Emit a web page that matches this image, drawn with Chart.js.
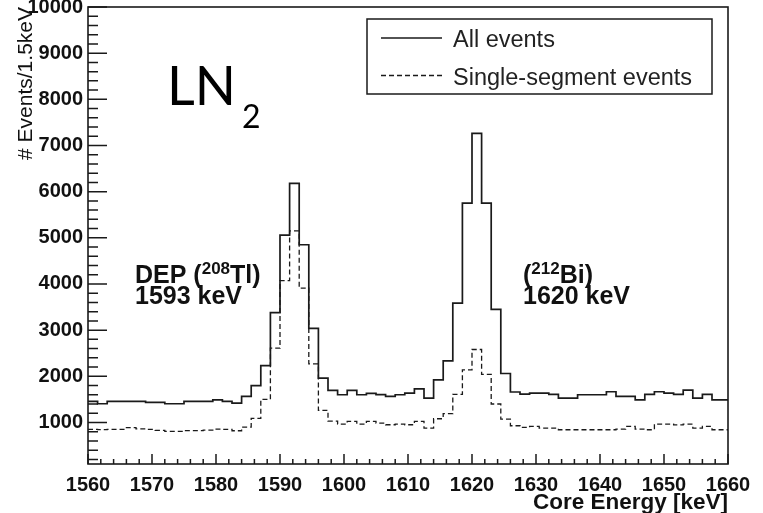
<!DOCTYPE html>
<html>
<head>
<meta charset="utf-8">
<script src="https://cdn.jsdelivr.net/npm/chart.js@4.4.0/dist/chart.umd.min.js"></script>
<style>
html, body { margin: 0; padding: 0; background: #ffffff; }
canvas { display: block; }
</style>
</head>
<body>
<canvas id="chart" width="763" height="513"></canvas>
<script>
// ---- data (1.5 keV bins, low edges in keV) ----
const binLowEdges = [1560, 1561.5, 1563, 1564.5, 1566, 1567.5, 1569, 1570.5, 1572, 1573.5,
  1575, 1576.5, 1578, 1579.5, 1581, 1582.5, 1584, 1585.5, 1587, 1588.5,
  1590, 1591.5, 1593, 1594.5, 1596, 1597.5, 1599, 1600.5, 1602, 1603.5,
  1605, 1606.5, 1608, 1609.5, 1611, 1612.5, 1614, 1615.5, 1617, 1618.5,
  1620, 1621.5, 1623, 1624.5, 1626, 1627.5, 1629, 1630.5, 1632, 1633.5,
  1635, 1636.5, 1638, 1639.5, 1641, 1642.5, 1644, 1645.5, 1647, 1648.5,
  1650, 1651.5, 1653, 1654.5, 1656, 1657.5, 1659];
const binWidth = 1.5;

const allEvents = [1455, 1405, 1455, 1455, 1455, 1455, 1433, 1433, 1405, 1405,
  1455, 1455, 1455, 1491, 1455, 1420, 1563, 1800, 2230, 3380,
  5060, 6180, 4850, 3040, 1960, 1693, 1600, 1693, 1600, 1630,
  1605, 1563, 1600, 1636, 1729, 1528, 1924, 2335, 3584, 5750,
  7264, 5750, 3450, 2060, 1660, 1615, 1636, 1636, 1610, 1528,
  1528, 1600, 1600, 1600, 1665, 1563, 1563, 1491, 1608, 1665,
  1636, 1610, 1700, 1528, 1608, 1491, 1491];

const singleSegment = [850, 845, 850, 850, 890, 860, 850, 830, 805, 805,
  825, 825, 835, 855, 850, 820, 900, 1090, 1500, 2610,
  4074, 5150, 3910, 2270, 1260, 1030, 965, 1022, 965, 1022,
  987, 950, 965, 950, 1022, 879, 1080, 1190, 1610, 2141,
  2580, 2040, 1400, 1070, 929, 892, 914, 879, 879, 842,
  842, 842, 842, 842, 842, 857, 914, 857, 842, 965,
  965, 947, 965, 879, 914, 842, 842];

const seriesLabels = ['All events', 'Single-segment events'];
const xTickValues = [1560, 1570, 1580, 1590, 1600, 1610, 1620, 1630, 1640, 1650, 1660];
const yTickValues = [1000, 2000, 3000, 4000, 5000, 6000, 7000, 8000, 9000, 10000];
const xTitle = 'Core Energy [keV]';
const yTitle = '# Events/1.5keV';

// ---- helpers ----
function histPoints(values) {
  const pts = values.map((v, i) => ({ x: binLowEdges[i], y: v }));
  const last = values.length - 1;
  pts.push({ x: binLowEdges[last] + binWidth, y: values[last] });
  return pts;
}

const INK = '#1a1a1a';
const SANS = '"Liberation Sans", Arial, sans-serif';

const rootStylePlugin = {
  id: 'rootStyle',
  afterDraw(chart) {
    const { ctx, chartArea: a, scales } = chart;
    const x = scales.x, y = scales.y;
    ctx.save();
    ctx.strokeStyle = INK;
    ctx.lineWidth = 1.5;
    // inner ticks, x
    ctx.beginPath();
    for (let v = x.min; v <= x.max; v += 2) {
      const px = x.getPixelForValue(v);
      const len = (v % 10 === 0) ? 10 : 5;
      ctx.moveTo(px, a.bottom);
      ctx.lineTo(px, a.bottom - len);
    }
    // inner ticks, y
    for (let v = 200; v <= y.max; v += 200) {
      if (v < y.min) continue;
      const py = y.getPixelForValue(v);
      const len = (v % 1000 === 0) ? 19 : 10;
      ctx.moveTo(a.left, py);
      ctx.lineTo(a.left + len, py);
    }
    ctx.stroke();
    // frame
    ctx.lineWidth = 1.6;
    ctx.strokeRect(a.left, a.top, a.right - a.left, a.bottom - a.top);

    // legend box
    const lb = { l: 367, t: 19, r: 712, b: 94 };
    ctx.lineWidth = 1.5;
    ctx.strokeRect(lb.l, lb.t, lb.r - lb.l, lb.b - lb.t);
    const rows = [38, 75.5];
    chart.data.datasets.forEach((ds, i) => {
      ctx.save();
      ctx.strokeStyle = ds.borderColor;
      ctx.lineWidth = ds.borderWidth;
      ctx.setLineDash(ds.borderDash || []);
      ctx.beginPath();
      ctx.moveTo(381, rows[i]);
      ctx.lineTo(442, rows[i]);
      ctx.stroke();
      ctx.restore();
      ctx.fillStyle = '#222';
      ctx.font = '23.5px ' + SANS;
      ctx.textBaseline = 'middle';
      ctx.textAlign = 'left';
      ctx.fillText(ds.label, 453, rows[i] + 3);
    });

    // annotations
    ctx.fillStyle = '#000';
    ctx.textAlign = 'left';
    ctx.textBaseline = 'alphabetic';
    ctx.font = '54px Lato, "Open Sans", sans-serif';
    ctx.fillText('LN', 167, 105);
    ctx.font = '32px Lato, "Open Sans", sans-serif';
    ctx.fillText('2', 242, 128);

    function richLine(parts, x0, base) {
      let xx = x0;
      parts.forEach(p => {
        ctx.font = p.font;
        ctx.fillText(p.t, xx, base + (p.dy || 0));
        xx += ctx.measureText(p.t).width;
      });
    }
    const big = 'bold 25px ' + SANS;
    const sup = 'bold 17px ' + SANS;
    ctx.fillStyle = '#111';
    richLine([{ t: 'DEP (', font: big }, { t: '208', font: sup, dy: -9 }, { t: 'Tl)', font: big }], 135, 283);
    richLine([{ t: '1593 keV', font: big }], 135, 304);
    richLine([{ t: '(', font: big }, { t: '212', font: sup, dy: -9 }, { t: 'Bi)', font: big }], 523, 283);
    richLine([{ t: '1620 keV', font: big }], 523, 304);
    ctx.restore();
  }
};

new Chart(document.getElementById('chart').getContext('2d'), {
  type: 'line',
  data: {
    datasets: [
      {
        label: seriesLabels[0],
        data: histPoints(allEvents),
        borderColor: INK,
        borderWidth: 1.7,
        stepped: 'before',
        pointRadius: 0,
        fill: false,
        clip: 0
      },
      {
        label: seriesLabels[1],
        data: histPoints(singleSegment),
        borderColor: INK,
        borderWidth: 1.3,
        borderDash: [5, 3],
        stepped: 'before',
        pointRadius: 0,
        fill: false,
        clip: 0
      }
    ]
  },
  options: {
    responsive: false,
    animation: false,
    devicePixelRatio: 1,
    layout: { padding: { top: 7, right: 35, left: 0, bottom: 0 } },
    plugins: { legend: { display: false }, tooltip: { enabled: false } },
    scales: {
      x: {
        type: 'linear',
        min: 1560,
        max: 1660,
        grid: { display: false, drawTicks: false },
        border: { display: false },
        afterBuildTicks: s => { s.ticks = xTickValues.map(v => ({ value: v })); },
        ticks: {
          font: { family: SANS, size: 20, weight: 'bold' },
          color: '#111',
          padding: 9,
          maxRotation: 0,
          autoSkip: false,
          callback: v => String(v)
        },
        title: {
          display: true,
          text: xTitle,
          align: 'end',
          color: '#111',
          font: { family: SANS, size: 22.5, weight: 'bold', lineHeight: 1 },
          padding: { top: 0, bottom: -1 }
        },
        afterFit: s => { s.height = 49; s.paddingLeft = 0; s.paddingRight = 0; }
      },
      y: {
        type: 'linear',
        min: 100,
        max: 10000,
        grid: { display: false, drawTicks: false },
        border: { display: false },
        afterBuildTicks: s => { s.ticks = yTickValues.map(v => ({ value: v })); },
        ticks: {
          font: { family: SANS, size: 20, weight: 'bold' },
          color: '#111',
          padding: 5,
          autoSkip: false,
          callback: v => String(v)
        },
        title: {
          display: true,
          text: yTitle,
          align: 'end',
          color: '#111',
          font: { family: SANS, size: 21, lineHeight: 1 },
          padding: { top: 16, bottom: 0 }
        },
        afterFit: s => { s.width = 88; s.paddingTop = 0; s.paddingBottom = 0; }
      }
    }
  },
  plugins: [rootStylePlugin]
});
</script>
</body>
</html>
